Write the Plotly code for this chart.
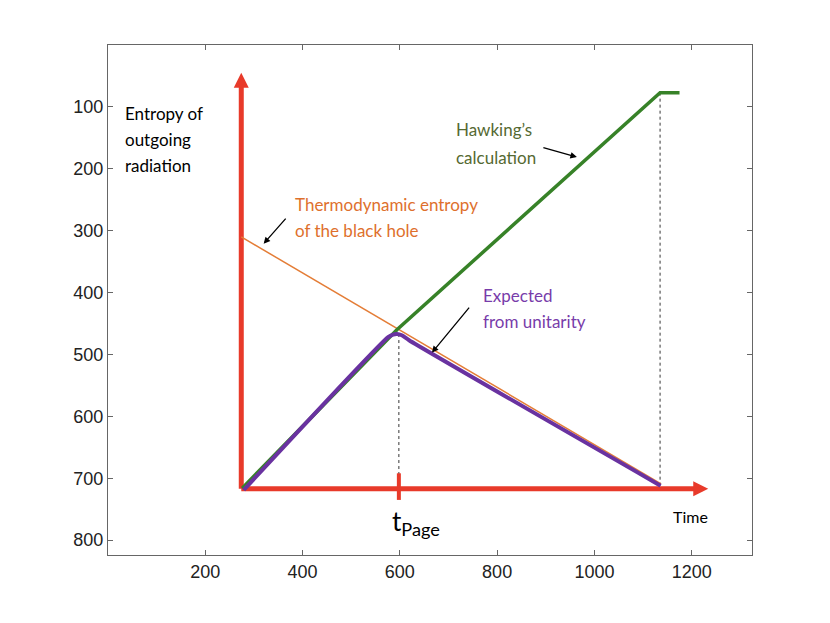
import plotly.graph_objects as go

# curves (time, entropy); y axis runs downward like an image
hawking_t = [276, 594, 1135, 1175]
hawking_s = [716, 460, 77, 77]

thermo_t = [274, 1137]
thermo_s = [310, 709]

page_t = [279, 576, 586, 594, 604, 619, 1136]
page_s = [719, 472, 468, 467, 469, 477, 712]

# hand drawn red axes and the t_Page tick
axis_v_t = [274, 274]
axis_v_s = [717, 60]
axis_h_t = [274, 1222]
axis_h_s = [717, 717]
tick_t = [598, 598]
tick_s = [692, 735]

# dotted guides
guide1_t = [598, 598]
guide1_s = [467, 717]
guide2_t = [1135, 1135]
guide2_s = [77, 717]

red = "rgb(232,58,42)"
green = "rgb(55,130,40)"
purple = "rgb(105,50,160)"
orange = "rgb(228,125,55)"

fig = go.Figure()

for gt, gs in [(guide1_t, guide1_s), (guide2_t, guide2_s)]:
    fig.add_trace(go.Scatter(x=gt, y=gs, mode="lines",
                             line=dict(color="black", width=0.8, dash="dot")))

fig.add_trace(go.Scatter(x=axis_v_t, y=axis_v_s, mode="lines",
                         line=dict(color=red, width=5)))
fig.add_trace(go.Scatter(x=axis_h_t, y=axis_h_s, mode="lines",
                         line=dict(color=red, width=5)))
fig.add_trace(go.Scatter(x=tick_t, y=tick_s, mode="lines",
                         line=dict(color=red, width=4)))
# arrow heads at the tips of the red axes
fig.add_trace(go.Scatter(x=[274], y=[45], mode="markers",
                         marker=dict(symbol="arrow-up", size=15, color=red)))
fig.add_trace(go.Scatter(x=[1234], y=[717], mode="markers",
                         marker=dict(symbol="arrow-right", size=15, color=red)))

fig.add_trace(go.Scatter(x=thermo_t, y=thermo_s, mode="lines",
                         line=dict(color=orange, width=1.5)))
fig.add_trace(go.Scatter(x=hawking_t, y=hawking_s, mode="lines",
                         line=dict(color=green, width=3.5)))
fig.add_trace(go.Scatter(x=page_t, y=page_s, mode="lines",
                         line=dict(color=purple, width=4, shape="spline", smoothing=0.6)))

txt_font = "Lato, Open Sans, sans-serif"


def label(x, y, text, color, size=17, anchor="left"):
    fig.add_annotation(x=x, y=y, text=text, showarrow=False, xanchor=anchor,
                       yanchor="middle", font=dict(family=txt_font, size=size, color=color))


for y, t in zip([110, 153, 195], ["Entropy of", "outgoing", "radiation"]):
    label(30, y, t, "black")
for y, t in zip([258, 299], ["Thermodynamic entropy", "of the black hole"]):
    label(381, y, t, "rgb(222,112,45)")
for y, t in zip([137, 181], ["Hawking’s", "calculation"]):
    label(712, y, t, "rgb(85,105,50)")
for y, t in zip([404, 446], ["Expected", "from unitarity"]):
    label(767, y, t, "rgb(120,60,170)")
label(1197, 762, "Time", "black", size=16, anchor="center")
label(580, 771, "t<sub>Page</sub>", "black", size=26)

# black pointer arrows
for hx, hy, tx, ty in [(320, 321, 368, 278), (964, 181, 892, 165), (666, 497, 745, 422)]:
    fig.add_annotation(x=hx, y=hy, ax=tx, ay=ty, axref="x", ayref="y", text="",
                       showarrow=True, arrowhead=2, arrowsize=1, arrowwidth=1.3,
                       arrowcolor="black")

axis_style = dict(showline=True, linecolor="#666", linewidth=1, mirror="ticks",
                  ticks="inside", ticklen=5, tickcolor="#666", showgrid=False,
                  zeroline=False,
                  tickfont=dict(family="Liberation Sans, Arial", size=18, color="#222"))

fig.update_layout(
    width=830, height=623,
    margin=dict(l=100, r=86, t=37, b=76),
    plot_bgcolor="white", paper_bgcolor="white",
    showlegend=False,
    xaxis=dict(range=[0, 1324], tickvals=[200, 400, 600, 800, 1000, 1200], **axis_style),
    yaxis=dict(range=[824, 0], tickvals=[100, 200, 300, 400, 500, 600, 700, 800], **axis_style),
)

fig.write_html("out.html")
